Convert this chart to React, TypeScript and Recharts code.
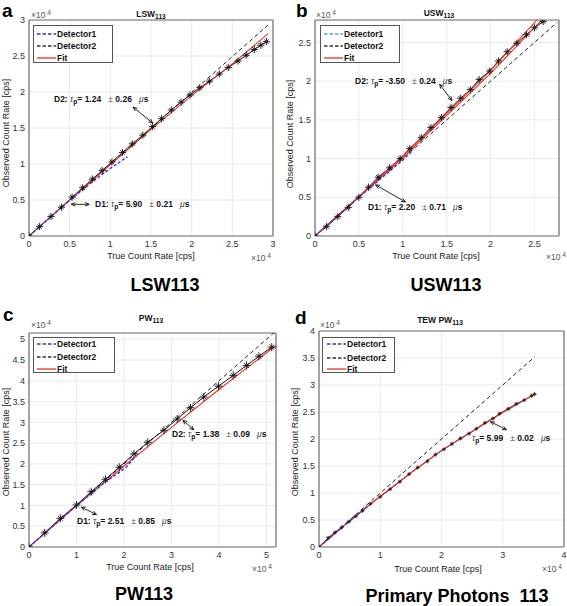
import React from 'react';
import { ComposedChart, Line, XAxis, YAxis, CartesianGrid, ReferenceLine } from 'recharts';

// All rates in units of 10^4 cps

// ---- Panel a: LSW113
const aD2True = [0, 0.13, 0.27, 0.40, 0.53, 0.66, 0.78, 0.90, 1.02, 1.15, 1.27, 1.40, 1.52, 1.63, 1.75, 1.87, 1.98, 2.10, 2.22, 2.34, 2.45, 2.57, 2.67, 2.77, 2.85, 2.92];
const aD2Obs = [0, 0.13, 0.27, 0.40, 0.54, 0.67, 0.79, 0.91, 1.03, 1.16, 1.28, 1.40, 1.52, 1.63, 1.75, 1.86, 1.96, 2.06, 2.15, 2.25, 2.34, 2.43, 2.51, 2.59, 2.65, 2.70];
const aD1True = [0, 0.4, 0.6, 0.8, 1.0, 1.21];
const aD1Obs = [0, 0.4, 0.59, 0.77, 0.94, 1.10];
const aFitTrue = [0, 0.5, 1.0, 1.5, 2.0, 2.5, 2.94];
const aFitObs = [0, 0.5, 0.99, 1.48, 1.95, 2.39, 2.81];
const aIdealTrue = [0, 2.94];
const aIdealObs = [0, 2.93];

// ---- Panel b: USW113
const bD2True = [0, 0.13, 0.26, 0.38, 0.50, 0.61, 0.72, 0.85, 0.97, 1.08, 1.21, 1.32, 1.44, 1.55, 1.66, 1.77, 1.87, 1.99, 2.09, 2.19, 2.30, 2.41, 2.50, 2.60];
const bD2Obs = [0, 0.12, 0.25, 0.37, 0.50, 0.63, 0.76, 0.88, 1.00, 1.13, 1.27, 1.40, 1.53, 1.66, 1.78, 1.89, 2.02, 2.13, 2.26, 2.38, 2.49, 2.60, 2.69, 2.77];
const bD1True = [0, 0.5, 0.8, 1.0, 1.10];
const bD1Obs = [0, 0.5, 0.79, 0.98, 1.09];
const bFitTrue = [0, 0.5, 1.0, 1.5, 2.0, 2.53, 2.62];
const bFitObs = [0, 0.51, 1.03, 1.58, 2.14, 2.79, 2.90];
const bFit2True = [0, 1.0, 2.0, 2.6, 2.68];
const bFit2Obs = [0, 1.01, 2.10, 2.81, 2.90];
const bIdealTrue = [0, 2.76];
const bIdealObs = [0, 2.76];

// ---- Panel c: PW113
const cD2True = [0, 0.33, 0.66, 1.00, 1.31, 1.61, 1.90, 2.21, 2.50, 2.84, 3.12, 3.40, 3.68, 3.99, 4.30, 4.58, 4.84, 5.11];
const cD2Obs = [0, 0.34, 0.69, 1.01, 1.33, 1.63, 1.92, 2.24, 2.52, 2.81, 3.08, 3.35, 3.61, 3.87, 4.13, 4.37, 4.59, 4.81];
const cD1True = [0, 1.0, 1.3, 1.6, 2.03, 2.21];
const cD1Obs = [0, 1.0, 1.28, 1.56, 1.90, 2.14];
const cFitTrue = [0, 1, 2, 3, 4, 5.2];
const cFitObs = [0, 0.99, 1.95, 2.88, 3.79, 4.85];
const cIdealTrue = [0, 5.25];
const cIdealObs = [0, 5.25];

// ---- Panel d: TEW PW113
const dD2True = [0, 0.15, 0.26, 0.37, 0.49, 0.60, 0.71, 0.84, 1.00, 1.16, 1.32, 1.47, 1.61, 1.77, 1.90, 2.04, 2.17, 2.31, 2.45, 2.57, 2.71, 2.84, 2.95, 3.09, 3.22, 3.35, 3.47, 3.52];
const dD2Obs = [0, 0.17, 0.27, 0.36, 0.47, 0.57, 0.67, 0.80, 0.93, 1.07, 1.21, 1.35, 1.47, 1.59, 1.71, 1.81, 1.91, 2.01, 2.10, 2.19, 2.30, 2.38, 2.47, 2.56, 2.65, 2.72, 2.80, 2.83];
const dD1True = [0, 0.4, 0.8];
const dD1Obs = [0, 0.39, 0.76];
const dFitTrue = [0, 0.5, 1, 1.5, 2, 2.5, 3, 3.52];
const dFitObs = [0, 0.48, 0.94, 1.37, 1.79, 2.14, 2.49, 2.83];
const dIdealTrue = [0, 3.52];
const dIdealObs = [0, 3.52];

const ticks3 = [0, 0.5, 1, 1.5, 2, 2.5, 3];
const ticks25 = [0, 0.5, 1, 1.5, 2, 2.5];
const ticks5 = [0, 1, 2, 3, 4, 5];
const ticks5h = [0, 0.5, 1, 1.5, 2, 2.5, 3, 3.5, 4, 4.5, 5];
const ticks4 = [0, 1, 2, 3, 4];
const ticks4h = [0, 0.5, 1, 1.5, 2, 2.5, 3, 3.5, 4];

const zip = (xs: number[], ys: number[]) => xs.map((x, i) => ({ x, y: ys[i] }));

const FONT = '"Liberation Sans", Arial, sans-serif';

const makeStar = (s: number, color: string) => (p: any) => {
  const { cx, cy, index } = p;
  if (cx == null || cy == null) return <g key={'n' + index} />;
  const d = s * 0.6;
  return (
    <g key={'s' + index} stroke={color} strokeWidth={0.9}>
      <line x1={cx - s} y1={cy} x2={cx + s} y2={cy} />
      <line x1={cx} y1={cy - s} x2={cx} y2={cy + s} />
      <line x1={cx - d} y1={cy - d} x2={cx + d} y2={cy + d} />
      <line x1={cx - d} y1={cy + d} x2={cx + d} y2={cy - d} />
    </g>
  );
};

const DoubleArrow = (props: any) => {
  const { x1, y1, x2, y2 } = props;
  const a = Math.atan2(y2 - y1, x2 - x1);
  const head = (x: number, y: number, ang: number) => {
    const l = 4.5, w = 0.42;
    return `M${x + l * Math.cos(ang + w)},${y + l * Math.sin(ang + w)} L${x},${y} L${x + l * Math.cos(ang - w)},${y + l * Math.sin(ang - w)}`;
  };
  return (
    <g stroke="#111" strokeWidth={0.9} fill="none">
      <line x1={x1} y1={y1} x2={x2} y2={y2} />
      <path d={head(x1, y1, a)} />
      <path d={head(x2, y2, a + Math.PI)} />
    </g>
  );
};

type Seg = { x1: number; y1: number; x2: number; y2: number };

const AXW = 28; // y axis width
const AXH = 20; // x axis height

function Panel(props: {
  box: number[];
  plot: { top: number; left: number; right: number; bottom: number };
  xMax: number; yMax: number; xTicks: number[]; yTicks: number[];
  d2: any[]; d1: any[]; fits: any[][]; ideal: any[]; arrows: Seg[];
  d1Color: string; mSize: number; mColor: string;
}) {
  const { box, plot, xMax, yMax, xTicks, yTicks, d2, d1, fits, ideal, arrows, d1Color, mSize, mColor } = props;
  const margin = { top: plot.top, right: plot.right, left: plot.left - AXW, bottom: plot.bottom - AXH };
  const tickStyle = { fontSize: 9, fill: '#333', fontFamily: FONT };
  return (
    <div style={{ position: 'absolute', left: box[0], top: box[1] }}>
      <ComposedChart width={box[2]} height={box[3]} margin={margin}>
        <CartesianGrid stroke="#e4e4e4" strokeWidth={0.8} />
        <XAxis type="number" dataKey="x" domain={[0, xMax]} ticks={xTicks} interval={0} allowDataOverflow
          height={AXH} tickSize={0} tickMargin={5} tick={tickStyle} tickLine={false} axisLine={{ stroke: '#6f6f6f', strokeWidth: 1.2 }} />
        <YAxis type="number" dataKey="y" domain={[0, yMax]} ticks={yTicks} interval={0} allowDataOverflow
          width={AXW} tickSize={0} tickMargin={4} tick={tickStyle} tickLine={false} axisLine={{ stroke: '#6f6f6f', strokeWidth: 1.2 }} />
        <ReferenceLine x={xMax} stroke="#6f6f6f" strokeWidth={1.2} />
        <ReferenceLine y={yMax} stroke="#6f6f6f" strokeWidth={1.2} />
        <Line data={ideal} dataKey="y" stroke="#222" strokeWidth={1} strokeDasharray="4 3" dot={false} isAnimationActive={false} />
        <Line data={d2} dataKey="y" stroke="#111" strokeWidth={1} dot={makeStar(mSize, mColor)} isAnimationActive={false} />
        {fits.map((f, i) => (
          <Line key={'f' + i} data={f} dataKey="y" stroke="#e8302a" strokeWidth={1.1} dot={false} isAnimationActive={false} />
        ))}
        <Line data={d1} dataKey="y" stroke={d1Color} strokeWidth={1.4} strokeDasharray="3 2" dot={false} isAnimationActive={false} />
        {arrows.map((s, i) => (
          <ReferenceLine key={'a' + i} segment={[{ x: s.x1, y: s.y1 }, { x: s.x2, y: s.y2 }]} shape={DoubleArrow} />
        ))}
      </ComposedChart>
    </div>
  );
}

const Txt = (p: { x: number; y: number; size?: number; weight?: any; color?: string; anchor?: string; rotate?: boolean; children: any }) => {
  const tx = p.anchor === 'start' ? '0' : p.anchor === 'end' ? '-100%' : '-50%';
  return (
    <div style={{
      position: 'absolute', left: p.x, top: p.y,
      transform: `translate(${tx},-50%)${p.rotate ? ' rotate(-90deg)' : ''}`,
      fontFamily: FONT, fontSize: p.size ?? 9, fontWeight: p.weight ?? 'normal', color: p.color ?? '#222',
      whiteSpace: 'pre', lineHeight: 1,
    }}>{p.children}</div>
  );
};

const Sub = ({ children }: any) => <span style={{ fontSize: '0.78em', position: 'relative', top: '0.35em' }}>{children}</span>;
const Sup = ({ children }: any) => <span style={{ fontSize: '0.78em', position: 'relative', top: '-0.45em' }}>{children}</span>;

const Tau = ({ x, y, label, val, err }: any) => (
  <Txt x={x} y={y} anchor="start" size={8.5} weight="bold" color="#111">
    {label ? label + ' ' : ''}<span style={{ fontStyle: 'italic', fontWeight: 'normal', color: '#444' }}>τ</span><Sub>p</Sub>= {val}   <span style={{ fontWeight: 'normal', color: '#666' }}>±</span> {err}   <span style={{ fontStyle: 'italic', fontWeight: 'normal', color: '#444' }}>μ</span>s
  </Txt>
);

const Exp = ({ x, y }: any) => (
  <Txt x={x} y={y} anchor="start" size={8.5} color="#555">×10<Sup> 4</Sup></Txt>
);

const LegendBox = ({ x, y, w, h, rows, lineX, d1Color }: any) => {
  const items = [
    { label: 'Detector1', color: d1Color, dash: true },
    { label: 'Detector2', color: '#333', dash: true },
    { label: 'Fit', color: '#e8302a', dash: false },
  ];
  return (
    <div style={{ position: 'absolute', left: x, top: y, width: w, height: h, border: '1px solid #555', background: '#fff', boxSizing: 'border-box' }}>
      {items.map((it, i) => (
        <div key={i} style={{ position: 'absolute', left: lineX, top: rows[i] - y - 6, height: 12, display: 'flex', alignItems: 'center' }}>
          <svg width={19} height={4} style={{ display: 'block' }}>
            <line x1={0} y1={2} x2={19} y2={2} stroke={it.color} strokeWidth={1.3} strokeDasharray={it.dash ? '3.5 2' : undefined} />
          </svg>
          <span style={{ fontFamily: FONT, fontSize: 8.5, fontWeight: 'bold', color: '#111', marginLeft: 1 }}>{it.label}</span>
        </div>
      ))}
    </div>
  );
};

export default function App() {
  const bigFont = { fontFamily: FONT, fontWeight: 'bold' as const };
  return (
    <div style={{ position: 'absolute', left: 0, top: 0, width: 567, height: 606, background: '#fff', overflow: 'hidden' }}>
      <Panel box={[0, 0, 290, 300]} plot={{ top: 20, left: 29, right: 17, bottom: 64 }}
        xMax={3} yMax={3} xTicks={ticks3} yTicks={ticks3}
        d2={zip(aD2True, aD2Obs)} d1={zip(aD1True, aD1Obs)} fits={[zip(aFitTrue, aFitObs)]} ideal={zip(aIdealTrue, aIdealObs)}
        arrows={[{ x1: 1.28, y1: 1.79, x2: 1.52, y2: 1.57 }, { x1: 0.52, y1: 0.44, x2: 0.74, y2: 0.44 }]}
        d1Color="#3535c8" mSize={3.6} mColor="#111" />
      <Panel box={[280, 0, 287, 300]} plot={{ top: 20, left: 35, right: 8, bottom: 64 }}
        xMax={2.78} yMax={2.79} xTicks={ticks25} yTicks={ticks25}
        d2={zip(bD2True, bD2Obs)} d1={zip(bD1True, bD1Obs)} fits={[zip(bFitTrue, bFitObs), zip(bFit2True, bFit2Obs)]} ideal={zip(bIdealTrue, bIdealObs)}
        arrows={[{ x1: 1.42, y1: 1.96, x2: 1.56, y2: 1.75 }, { x1: 0.69, y1: 0.66, x2: 1.03, y2: 0.44 }]}
        d1Color="#4a3fc0" mSize={3.6} mColor="#111" />
      <Panel box={[0, 300, 290, 306]} plot={{ top: 33, left: 29, right: 14, bottom: 59 }}
        xMax={5.2} yMax={5.15} xTicks={ticks5} yTicks={ticks5h}
        d2={zip(cD2True, cD2Obs)} d1={zip(cD1True, cD1Obs)} fits={[zip(cFitTrue, cFitObs)]} ideal={zip(cIdealTrue, cIdealObs)}
        arrows={[{ x1: 3.24, y1: 3.05, x2: 3.47, y2: 2.82 }, { x1: 1.10, y1: 0.96, x2: 1.42, y2: 0.78 }]}
        d1Color="#3535c8" mSize={4} mColor="#111" />
      <Panel box={[280, 300, 287, 306]} plot={{ top: 31, left: 39, right: 3, bottom: 59 }}
        xMax={4} yMax={4} xTicks={ticks4} yTicks={ticks4h}
        d2={zip(dD2True, dD2Obs)} d1={zip(dD1True, dD1Obs)} fits={[zip(dFitTrue, dFitObs)]} ideal={zip(dIdealTrue, dIdealObs)}
        arrows={[{ x1: 2.80, y1: 2.32, x2: 3.06, y2: 2.17 }]}
        d1Color="#3535c8" mSize={2} mColor="#3a1a1a" />

      {/* panel letters */}
      <Txt x={2} y={10} anchor="start" size={19} weight="bold" color="#000">a</Txt>
      <Txt x={296} y={10} anchor="start" size={19} weight="bold" color="#000">b</Txt>
      <Txt x={3} y={314} anchor="start" size={19} weight="bold" color="#000">c</Txt>
      <Txt x={295} y={317} anchor="start" size={19} weight="bold" color="#000">d</Txt>

      {/* titles */}
      <Txt x={151} y={14} size={8.5} weight="bold" color="#111">LSW<Sub>113</Sub></Txt>
      <Txt x={439} y={13} size={8.5} weight="bold" color="#111">USW<Sub>113</Sub></Txt>
      <Txt x={151} y={318} size={8.5} weight="bold" color="#111">PW<Sub>113</Sub></Txt>
      <Txt x={440} y={320} size={8.5} weight="bold" color="#111">TEW PW<Sub>113</Sub></Txt>

      {/* exponents */}
      <Exp x={31} y={15} />
      <Exp x={251} y={258} />
      <Exp x={316} y={15} />
      <Exp x={546} y={257} />
      <Exp x={31} y={325} />
      <Exp x={252} y={569} />
      <Exp x={320} y={325} />
      <Exp x={542} y={569} />

      {/* axis titles */}
      <Txt x={151} y={256} size={9} color="#222">True Count Rate [cps]</Txt>
      <Txt x={436} y={256} size={9} color="#222">True Count Rate [cps]</Txt>
      <Txt x={150} y={567} size={9} color="#222">True Count Rate [cps]</Txt>
      <Txt x={438} y={569} size={9} color="#222">True Count Rate [cps]</Txt>
      <Txt x={6} y={133} size={9} color="#222" rotate>Observed Count Rate [cps]</Txt>
      <Txt x={290} y={134} size={9} color="#222" rotate>Observed Count Rate [cps]</Txt>
      <Txt x={6} y={442} size={9} color="#222" rotate>Observed Count Rate [cps]</Txt>
      <Txt x={295} y={442} size={9} color="#222" rotate>Observed Count Rate [cps]</Txt>

      {/* legends */}
      <LegendBox x={33} y={25} w={80} h={38} rows={[33, 45, 57]} lineX={3} d1Color="#3535c8" />
      <LegendBox x={320} y={25} w={80} h={38} rows={[33, 45, 57]} lineX={3} d1Color="#4aa3d8" />
      <LegendBox x={33} y={337} w={82} h={36} rows={[343, 356, 368]} lineX={3} d1Color="#3535c8" />
      <LegendBox x={322} y={337} w={73} h={36} rows={[343, 357, 368]} lineX={4} d1Color="#3535c8" />

      {/* annotations */}
      <Tau x={54} y={99} label="D2:" val="1.24" err="0.26" />
      <Tau x={95} y={204} label="D1:" val="5.90" err="0.21" />
      <Tau x={355} y={81} label="D2:" val="-3.50" err="0.24" />
      <Tau x={368} y={207} label="D1:" val="2.20" err="0.71" />
      <Tau x={172} y={434} label="D2:" val="1.38" err="0.09" />
      <Tau x={77} y={521} label="D1:" val="2.51" err="0.85" />
      <Tau x={472} y={438} label="" val="5.99" err="0.02" />

      {/* big captions */}
      <div style={{ position: 'absolute', left: 165, top: 285, transform: 'translate(-50%,-50%)', fontSize: 18, lineHeight: 1, whiteSpace: 'pre', ...bigFont }}>LSW113</div>
      <div style={{ position: 'absolute', left: 446, top: 285, transform: 'translate(-50%,-50%)', fontSize: 18, lineHeight: 1, whiteSpace: 'pre', ...bigFont }}>USW113</div>
      <div style={{ position: 'absolute', left: 144, top: 594, transform: 'translate(-50%,-50%)', fontSize: 18, lineHeight: 1, whiteSpace: 'pre', ...bigFont }}>PW113</div>
      <div style={{ position: 'absolute', left: 457, top: 596, transform: 'translate(-50%,-50%)', fontSize: 18, lineHeight: 1, whiteSpace: 'pre', ...bigFont }}>Primary Photons  113</div>
    </div>
  );
}
